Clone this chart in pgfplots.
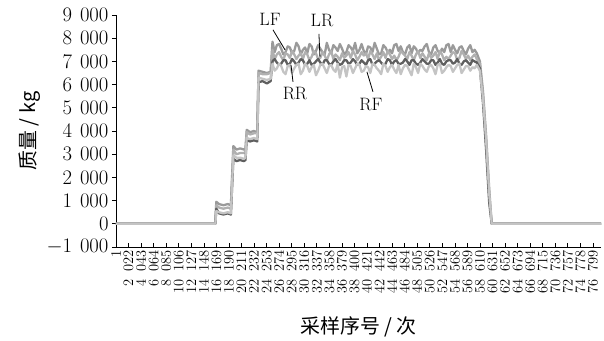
\documentclass[border=0pt]{standalone}
\usepackage{pgfplots}
\pgfplotsset{compat=1.18}
\usepackage{pgfplotstable}
\usepackage{fontspec}
\newfontfamily\cjk{Noto Sans CJK SC}
\definecolor{cLF}{HTML}{9A9A9A}
\definecolor{cLR}{HTML}{B0B0B0}
\definecolor{cRR}{HTML}{5F5F5F}
\definecolor{cRF}{HTML}{C4C4C4}
\pgfplotstableread{
x LF LR RR RF
1 0 0 0 0
16000 0 0 0 0
16150 950 800 650 550
16600 850 700 450 500
17300 800 650 400 450
18000 850 700 450 500
18500 800 650 400 450
18900 3350 3200 2800 2950
19400 3200 3000 2700 2850
20000 3250 3050 2750 2850
20600 3200 3050 2700 2800
20850 3250 3100 2750 2850
21050 4050 3950 3600 3700
21600 3950 3850 3550 3650
22200 4000 3900 3600 3700
22750 3950 3900 3550 3650
22950 6600 6500 6100 6300
23600 6550 6450 6150 6250
24300 6500 6450 6050 6200
24900 6550 6500 6150 6250
25200 7850 7500 7000 6900
25550 7400 7100 7100 6600
25900 7700 7300 6950 6700
26250 7750 7400 6850 6900
26600 7550 7200 6900 6800
26950 7300 7050 7050 6550
27300 7400 7350 7050 6450
27650 7650 7300 6850 6800
28000 7600 7150 6900 6850
28350 7350 7450 7100 6500
28700 7450 7300 7000 6700
29050 7800 7100 6850 6850
29400 7650 7250 6950 6900
29750 7300 7350 7100 6450
30100 7500 7100 7050 6600
30450 7600 7400 6850 6900
30800 7350 7300 6900 6800
31150 7750 7050 7050 6550
31500 7650 7200 6850 6750
31850 7300 7450 6900 6850
32200 7450 7350 7000 6400
32550 7700 7100 7100 6600
32900 7550 7150 6950 6850
33250 7400 7400 6850 6900
33600 7300 7250 7050 6700
33950 7800 7050 7050 6500
34300 7500 7300 6900 6800
34650 7350 7450 6850 6850
35000 7700 7100 7000 6650
35350 7600 7300 7100 6550
35700 7450 7200 6950 6900
36050 7750 7050 6850 6300
36400 7550 7350 6900 6750
36750 7300 7150 7050 6800
37100 7400 7250 7050 6350
37450 7700 7400 6900 6850
37800 7600 7150 6950 6800
38150 7450 7450 7100 6500
38500 7800 7300 7000 6700
38850 7350 7050 6850 6900
39200 7500 7200 6900 6850
39550 7750 7400 7050 6550
39900 7450 7250 6950 6600
40250 7300 7350 6850 6800
40600 7650 7100 7050 6750
40950 7600 7450 7100 6500
41300 7400 7300 6850 6900
41650 7800 7100 6900 6850
42000 7550 7350 7000 6700
42350 7300 7050 7050 6600
42700 7350 7200 6950 6450
43050 7700 7400 6850 6900
43400 7600 7150 6900 6800
43750 7400 7450 7100 6550
44100 7500 7300 7050 6750
44450 7350 7100 6850 6850
44800 7700 7250 7000 6650
45150 7750 7050 7050 6500
45500 7450 7200 6900 6850
45850 7650 7450 6900 6450
46200 7400 7350 6950 6700
46550 7300 7250 7100 6850
46900 7600 7100 7000 6800
47250 7700 7400 6850 6600
47600 7350 7250 7050 6400
47950 7650 7050 7050 6900
48300 7550 7300 6900 6750
48650 7350 7450 6850 6500
49000 7500 7150 6950 6900
49350 7450 7350 7100 6800
49700 7650 7200 7000 6650
50050 7750 7050 6900 6550
50400 7400 7350 6900 6800
50750 7300 7150 7050 6850
51100 7600 7250 7050 6700
51450 7700 7400 6850 6450
51800 7450 7100 6950 6850
52150 7350 7450 7100 6900
52500 7550 7300 6900 6500
52850 7400 7050 6850 6600
53200 7700 7200 7000 6750
53550 7750 7100 7050 6850
53900 7400 7250 7050 6800
54250 7700 7400 6900 6550
54600 7500 7350 6950 6700
54950 7350 7050 7100 6850
55300 7600 7150 6900 6900
55650 7650 7450 6850 6500
56000 7450 7300 7000 6650
56350 7300 7100 7050 6800
56700 7550 7250 6950 6800
57050 7700 7050 6850 6600
57400 7400 7200 7050 6750
57750 7500 7300 7000 6700
58100 7350 7100 6950 6850
58600 7000 6900 6700 6600
59100 5700 5500 5200 5400
59600 3800 3500 3200 3600
60100 1500 1200 900 1300
60500 0 0 0 0
78100 0 0 0 0
}\loadtable
\begin{document}
\begin{tikzpicture}
\path (-116bp,-93bp) rectangle (488bp,247bp);
\begin{axis}[
  at={(0,0)}, anchor=south west,
  scale only axis, width=485bp, height=232bp,
  xmin=1, xmax=78100, ymin=-1000, ymax=9000,
  axis x line*=bottom, axis y line*=left,
  axis line style={line width=0.8bp},
  tick align=inside, major tick length=4bp,
  tick style={line width=0.7bp, black},
  y tick style={xshift=-4bp},
  scaled x ticks=false, scaled y ticks=false,
  ytick={-1000,0,...,9000},
  yticklabel style={font=\fontsize{20}{20}\selectfont, xshift=-4bp, /pgf/number format/1000 sep={\kern0.4em}},
  xtick={1,2022,4043,6064,8085,10106,12127,14148,16169,18190,20211,22232,24253,26274,28295,30316,32337,34358,36379,38400,40421,42442,44463,46484,48505,50526,52547,54568,56589,58610,60631,62652,64673,66694,68715,70736,72757,74778,76799},
  xticklabels={1,2\enspace022,4\enspace043,6\enspace064,8\enspace085,10\enspace106,12\enspace127,14\enspace148,16\enspace169,18\enspace190,20\enspace211,22\enspace232,24\enspace253,26\enspace274,28\enspace295,30\enspace316,32\enspace337,34\enspace358,36\enspace379,38\enspace400,40\enspace421,42\enspace442,44\enspace463,46\enspace484,48\enspace505,50\enspace526,52\enspace547,54\enspace568,56\enspace589,58\enspace610,60\enspace631,62\enspace652,64\enspace673,66\enspace694,68\enspace715,70\enspace736,72\enspace757,74\enspace778,76\enspace799},
  xticklabel style={rotate=90, anchor=east, font=\fontsize{14.5}{14.5}\selectfont},
  xlabel={\cjk 采样序号 / 次},
  every axis x label/.style={at={([yshift=-80bp]axis description cs:0.5,0)}, anchor=center, font=\fontsize{20}{20}\selectfont},
  ylabel={\cjk 质量 / kg},
  every axis y label/.style={at={([xshift=-86bp]axis description cs:0,0.5)}, anchor=center, rotate=90, font=\fontsize{20}{20}\selectfont},
  clip=false,
]
\addplot[color=cLF, line width=2.3bp, mark=none, line join=round] table[x=x,y=LF]{\loadtable};
\addplot[color=cLR, line width=2.3bp, mark=none, line join=round] table[x=x,y=LR]{\loadtable};
\addplot[color=cRR, line width=2.3bp, mark=none, line join=round] table[x=x,y=RR]{\loadtable};
\addplot[color=cRF, line width=2.3bp, mark=none, line join=round] table[x=x,y=RF]{\loadtable};
\draw[line width=0.8bp] (axis cs:25280,8360) -- (axis cs:27210,7500);
\draw[line width=0.8bp] (axis cs:32680,8190) -- (axis cs:32840,7200);
\draw[line width=0.8bp] (axis cs:28180,6850) -- (axis cs:28500,6120);
\draw[line width=0.8bp] (axis cs:40410,6550) -- (axis cs:41380,5690);
\node[font=\fontsize{18}{18}\selectfont] at (axis cs:24800,8790) {LF};
\node[font=\fontsize{18}{18}\selectfont] at (axis cs:33170,8750) {LR};
\node[font=\fontsize{18}{18}\selectfont] at (axis cs:28820,5600) {RR};
\node[font=\fontsize{18}{18}\selectfont] at (axis cs:41060,5130) {RF};
\end{axis}
\end{tikzpicture}
\end{document}
